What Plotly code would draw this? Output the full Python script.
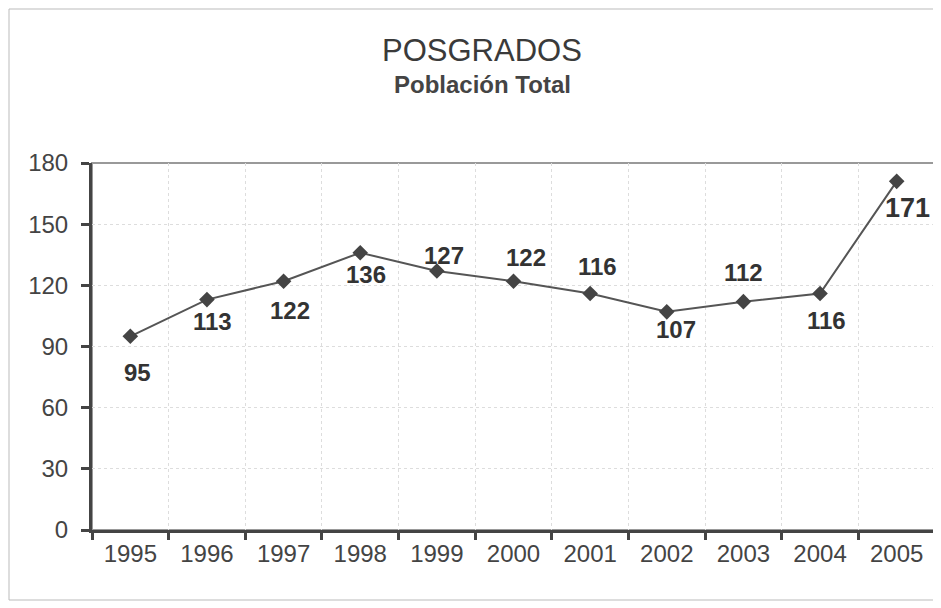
import plotly.graph_objects as go

years = ["1995", "1996", "1997", "1998", "1999", "2000", "2001", "2002", "2003", "2004", "2005"]
poblacion = [95, 113, 122, 136, 127, 122, 116, 107, 112, 116, 171]
y_ticks = [0, 30, 60, 90, 120, 150, 180]

# label offsets in pixels (dx right, dy down) -- styling only
label_offsets = [(7, 36), (6, 22), (6, 29), (6, 22), (7, -16), (12, -24),
                 (7, -27), (9, 18), (0, -29), (6, 27), (11, 27)]
label_sizes = [24] * 10 + [27]

# page has an 8px body margin; compensate so the plot lands where the reference has it
OFF = 8
W, H = 941 - OFF, 608 - OFF
PLOT_L, PLOT_R, PLOT_T, PLOT_B = 92, 935, 163, 530   # page coords
L, R, T, B = PLOT_L - OFF, (941 - PLOT_R), PLOT_T - OFF, (608 - PLOT_B)
pw, ph = W - L - R, H - T - B

def px_x(x):
    return (x - PLOT_L) / pw

def px_y(y):
    return (PLOT_B - y) / ph

FONT = "Liberation Sans, Arial, sans-serif"

fig = go.Figure()
fig.add_trace(go.Scatter(
    x=years, y=poblacion, mode="lines+markers",
    line=dict(color="#555555", width=2),
    marker=dict(symbol="diamond", size=12, color="#444444"),
    hoverinfo="x+y", showlegend=False,
))

annotations = []
for i, (v, (dx, dy), fs) in enumerate(zip(poblacion, label_offsets, label_sizes)):
    annotations.append(dict(
        x=i, y=v, xref="x", yref="y", text=f"<b>{v}</b>", showarrow=False,
        xshift=dx, yshift=-dy, font=dict(family=FONT, size=fs, color="#333333"),
        xanchor="center", yanchor="middle",
    ))

annotations.append(dict(
    x=px_x(482), y=px_y(50), xref="paper", yref="paper", text="POSGRADOS",
    showarrow=False, xanchor="center", yanchor="middle",
    font=dict(family=FONT, size=31, color="#3a3a3a"),
))
annotations.append(dict(
    x=px_x(482), y=px_y(84), xref="paper", yref="paper", text="<b>Población Total</b>",
    showarrow=False, xanchor="center", yanchor="middle",
    font=dict(family=FONT, size=24, color="#444444"),
))

shapes = [
    # outer chart border
    dict(type="rect", xref="paper", yref="paper",
         x0=px_x(9), x1=px_x(939), y0=px_y(600), y1=px_y(9),
         line=dict(color="#bbbbbb", width=1), layer="below"),
    # plot area border (top/right gray)
    dict(type="rect", xref="paper", yref="paper", x0=0, x1=1, y0=0, y1=1,
         line=dict(color="#999999", width=2), layer="below"),
]

fig.update_layout(
    width=W, height=H,
    margin=dict(l=L, r=R, t=T, b=B, pad=0),
    paper_bgcolor="white", plot_bgcolor="white",
    annotations=annotations, shapes=shapes,
    font=dict(family=FONT, color="#444444"),
    xaxis=dict(
        type="category", range=[-0.5, 10.5],
        tickson="boundaries", ticks="outside", ticklen=7, tickwidth=3, tickcolor="#444444",
        showline=True, linecolor="#444444", linewidth=3,
        showgrid=True, gridcolor="#dddddd", griddash="dot", gridwidth=1,
        tickfont=dict(family=FONT, size=24, color="#444444"),
        fixedrange=True,
    ),
    yaxis=dict(
        range=[0, 180], tickvals=y_ticks, ticks="outside", ticklen=8, tickwidth=3,
        tickcolor="#444444", showline=True, linecolor="#444444", linewidth=3,
        showgrid=True, gridcolor="#dddddd", griddash="dot", gridwidth=1,
        zeroline=False, ticklabelstandoff=8,
        tickfont=dict(family=FONT, size=24, color="#444444"),
        fixedrange=True,
    ),
)

fig.write_html("out.html")
